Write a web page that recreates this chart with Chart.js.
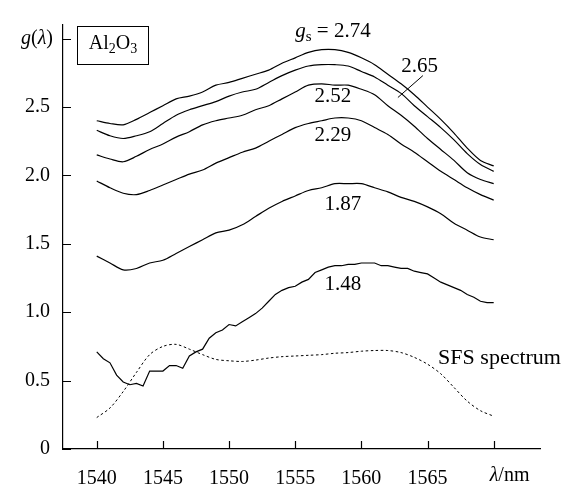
<!DOCTYPE html>
<html>
<head>
<meta charset="utf-8">
<script src="https://cdn.jsdelivr.net/npm/chart.js@4/dist/chart.umd.min.js"></script>
<style>
  html, body { margin: 0; padding: 0; background: #fff; }
  #wrap { width: 572px; height: 489px; }
</style>
</head>
<body>
<div id="wrap"><canvas id="gChart" width="572" height="489"></canvas></div>
<script>
// Wavelength grid (nm)
const wavelengths = [1540, 1541, 1542, 1543, 1544, 1545, 1546, 1547, 1548, 1549, 1550,
  1551, 1552, 1553, 1554, 1555, 1556, 1557, 1558, 1559, 1560,
  1561, 1562, 1563, 1564, 1565, 1566, 1567, 1568, 1569, 1570];
const halfStepWavelengths = [1540, 1540.5, 1541, 1541.5, 1542, 1542.5, 1543, 1543.5, 1544, 1544.5,
  1545, 1545.5, 1546, 1546.5, 1547, 1547.5, 1548, 1548.5, 1549, 1549.5,
  1550, 1550.5, 1551, 1551.5, 1552, 1552.5, 1553, 1553.5, 1554, 1554.5,
  1555, 1555.5, 1556, 1556.5, 1557, 1557.5, 1558, 1558.5, 1559, 1559.5,
  1560, 1560.5, 1561, 1561.5, 1562, 1562.5, 1563, 1563.5, 1564, 1564.5,
  1565, 1565.5, 1566, 1566.5, 1567, 1567.5, 1568, 1568.5, 1569, 1569.5, 1570];

// g(lambda) curves, labelled by g_s
const g274 = [2.40, 2.38, 2.37, 2.41, 2.46, 2.51, 2.56, 2.58, 2.61, 2.66, 2.68, 2.71, 2.74, 2.77, 2.82, 2.86,
  2.90, 2.92, 2.92, 2.90, 2.86, 2.81, 2.74, 2.67, 2.59, 2.50, 2.41, 2.31, 2.20, 2.11, 2.07];
const g265 = [2.33, 2.29, 2.27, 2.29, 2.32, 2.38, 2.44, 2.48, 2.51, 2.54, 2.58, 2.61, 2.63, 2.68, 2.73, 2.77,
  2.80, 2.81, 2.81, 2.80, 2.76, 2.72, 2.66, 2.60, 2.51, 2.43, 2.35, 2.26, 2.16, 2.08, 2.03];
const g252 = [2.15, 2.12, 2.10, 2.14, 2.19, 2.23, 2.28, 2.32, 2.37, 2.40, 2.42, 2.44, 2.48, 2.51, 2.56, 2.61,
  2.66, 2.67, 2.66, 2.66, 2.63, 2.59, 2.51, 2.44, 2.36, 2.27, 2.19, 2.11, 2.02, 1.97, 1.94];
const g229 = [1.96, 1.91, 1.87, 1.86, 1.89, 1.93, 1.97, 2.01, 2.04, 2.09, 2.13, 2.17, 2.20, 2.25, 2.30, 2.35,
  2.38, 2.40, 2.42, 2.42, 2.40, 2.35, 2.30, 2.23, 2.17, 2.10, 2.03, 1.97, 1.91, 1.86, 1.82];
const g187 = [1.41, 1.36, 1.31, 1.32, 1.36, 1.38, 1.43, 1.48, 1.53, 1.58, 1.60, 1.64, 1.70, 1.76, 1.81, 1.85,
  1.89, 1.91, 1.94, 1.94, 1.94, 1.91, 1.88, 1.84, 1.81, 1.77, 1.72, 1.65, 1.60, 1.55, 1.53];
const g148 = [0.71, 0.66, 0.63, 0.54, 0.49, 0.47, 0.48, 0.46, 0.57, 0.57, 0.57, 0.61, 0.61, 0.59, 0.68, 0.71,
  0.73, 0.81, 0.85, 0.87, 0.91, 0.90, 0.93, 0.96, 0.99, 1.03, 1.08, 1.13, 1.16, 1.18, 1.19, 1.22,
  1.24, 1.29, 1.31, 1.33, 1.34, 1.34, 1.35, 1.35, 1.36, 1.36, 1.36, 1.34, 1.34, 1.33, 1.32, 1.32,
  1.30, 1.29, 1.28, 1.25, 1.22, 1.20, 1.18, 1.16, 1.13, 1.11, 1.08, 1.07, 1.07];
const sfsSpectrum = [0.23, 0.30, 0.42, 0.56, 0.69, 0.75, 0.765, 0.73, 0.69, 0.655, 0.645, 0.64, 0.65, 0.665,
  0.675, 0.68, 0.685, 0.69, 0.70, 0.705, 0.715, 0.72, 0.72, 0.705, 0.67, 0.62, 0.55, 0.45, 0.35, 0.28, 0.24];

// Axis ticks
const xTicks = [1540, 1545, 1550, 1555, 1560, 1565, 1570];
const yTicks = [0, 0.5, 1.0, 1.5, 2.0, 2.5, 3.0];

const FONT = "'Liberation Serif', 'DejaVu Serif', serif";
const FS = 20;

function toPoints(xs, ys) {
  return xs.map((x, i) => ({ x: x, y: ys[i] }));
}

function curve(label, xs, ys, extra) {
  return Object.assign({
    label: label,
    data: toPoints(xs, ys),
    borderColor: '#000',
    borderWidth: 1.2,
    pointRadius: 0,
    tension: 0.3,
    fill: false
  }, extra || {});
}

// Draw text made of runs (italic / subscript pieces)
function drawRuns(ctx, runs, x, y, align, size) {
  const fs = size || FS;
  const fontFor = r => (r.italic ? 'italic ' : '') + (r.sub ? Math.round(fs * 0.7) : fs) + 'px ' + FONT;
  let total = 0;
  runs.forEach(r => { ctx.font = fontFor(r); total += ctx.measureText(r.t).width; });
  let cx = align === 'right' ? x - total : align === 'center' ? x - total / 2 : x;
  ctx.textAlign = 'left';
  ctx.textBaseline = 'middle';
  runs.forEach(r => {
    ctx.font = fontFor(r);
    ctx.fillText(r.t, cx, r.sub ? y + 5 : y);
    cx += ctx.measureText(r.t).width;
  });
}

// Inside ticks, labels and annotations
const decorPlugin = {
  id: 'decor',
  afterDraw(chart) {
    const ctx = chart.ctx;
    const xs = chart.scales.x, ys = chart.scales.y;
    const area = chart.chartArea;
    ctx.save();
    ctx.strokeStyle = '#000';
    ctx.fillStyle = '#000';
    ctx.lineWidth = 1.2;

    // tick marks pointing into the plot
    ctx.beginPath();
    xTicks.forEach(v => {
      const px = Math.round(xs.getPixelForValue(v)) + 0.5;
      ctx.moveTo(px, area.bottom);
      ctx.lineTo(px, area.bottom - 8);
    });
    yTicks.forEach(v => {
      const py = Math.round(ys.getPixelForValue(v)) + 0.5;
      ctx.moveTo(area.left, py);
      ctx.lineTo(area.left + 8, py);
    });
    ctx.stroke();

    // y axis title at the 3.0 tick
    drawRuns(ctx, [{ t: 'g', italic: true }, { t: '(' }, { t: 'λ', italic: true }, { t: ')' }],
      area.left - 10, ys.getPixelForValue(3.0), 'right');

    // x axis title at the end of the axis
    drawRuns(ctx, [{ t: 'λ', italic: true }, { t: '/nm' }],
      xs.getPixelForValue(1571.2), area.bottom + 27, 'center');

    // material box
    ctx.lineWidth = 1;
    ctx.strokeRect(area.left + 14.5, area.top + 1.5, 71, 38);
    drawRuns(ctx, [{ t: 'Al' }, { t: '2', sub: true }, { t: 'O' }, { t: '3', sub: true }],
      area.left + 50, area.top + 19, 'center');

    // curve labels
    drawRuns(ctx, [{ t: 'g', italic: true }, { t: 's', sub: true }, { t: ' = 2.74' }],
      xs.getPixelForValue(1557.85), ys.getPixelForValue(3.05), 'center', 21);
    drawRuns(ctx, [{ t: '2.65' }], xs.getPixelForValue(1564.4), ys.getPixelForValue(2.80), 'center', 21);
    drawRuns(ctx, [{ t: '2.52' }], xs.getPixelForValue(1557.85), ys.getPixelForValue(2.58), 'center', 21);
    drawRuns(ctx, [{ t: '2.29' }], xs.getPixelForValue(1557.85), ys.getPixelForValue(2.29), 'center', 21);
    drawRuns(ctx, [{ t: '1.87' }], xs.getPixelForValue(1558.6), ys.getPixelForValue(1.79), 'center', 21);
    drawRuns(ctx, [{ t: '1.48' }], xs.getPixelForValue(1558.6), ys.getPixelForValue(1.20), 'center', 21);
    drawRuns(ctx, [{ t: 'SFS spectrum' }], xs.getPixelForValue(1565.8), ys.getPixelForValue(0.665), 'left', 22);

    // leader line for 2.65
    ctx.beginPath();
    ctx.moveTo(xs.getPixelForValue(1564.65), ys.getPixelForValue(2.73));
    ctx.lineTo(xs.getPixelForValue(1562.76), ys.getPixelForValue(2.57));
    ctx.stroke();
    ctx.restore();
  }
};

const ctx = document.getElementById('gChart').getContext('2d');
new Chart(ctx, {
  type: 'line',
  data: {
    datasets: [
      curve('2.74', wavelengths, g274),
      curve('2.65', wavelengths, g265),
      curve('2.52', wavelengths, g252),
      curve('2.29', wavelengths, g229),
      curve('1.87', wavelengths, g187),
      curve('1.48', halfStepWavelengths, g148, { tension: 0 }),
      curve('SFS spectrum', wavelengths, sfsSpectrum, { borderWidth: 1, borderDash: [2.5, 2.5] })
    ]
  },
  options: {
    responsive: false,
    animation: false,
    events: [],
    layout: { padding: { left: 0, top: 10, right: 32, bottom: 0 } },
    plugins: {
      legend: { display: false },
      tooltip: { enabled: false }
    },
    scales: {
      x: {
        type: 'linear',
        min: 1537.45,
        max: 1573.5,
        afterBuildTicks: s => { s.ticks = xTicks.map(v => ({ value: v })); },
        afterFit: s => { s.height = 40; },
        grid: { display: false, drawTicks: false },
        border: { display: true, color: '#000', width: 1.2 },
        ticks: {
          color: '#000',
          padding: 18,
          maxRotation: 0,
          font: { family: FONT, size: FS },
          callback: v => (v === 1570 ? '' : String(v))
        }
      },
      y: {
        type: 'linear',
        min: 0,
        max: 3.1,
        afterBuildTicks: s => { s.ticks = yTicks.map(v => ({ value: v })); },
        afterFit: s => { s.width = 63; },
        grid: { display: false, drawTicks: false },
        border: { display: true, color: '#000', width: 1.2 },
        ticks: {
          color: '#000',
          padding: 13,
          font: { family: FONT, size: FS },
          callback: v => (v === 3 ? '' : v === 0 ? '0' : v.toFixed(1))
        }
      }
    }
  },
  plugins: [decorPlugin]
});
</script>
</body>
</html>
